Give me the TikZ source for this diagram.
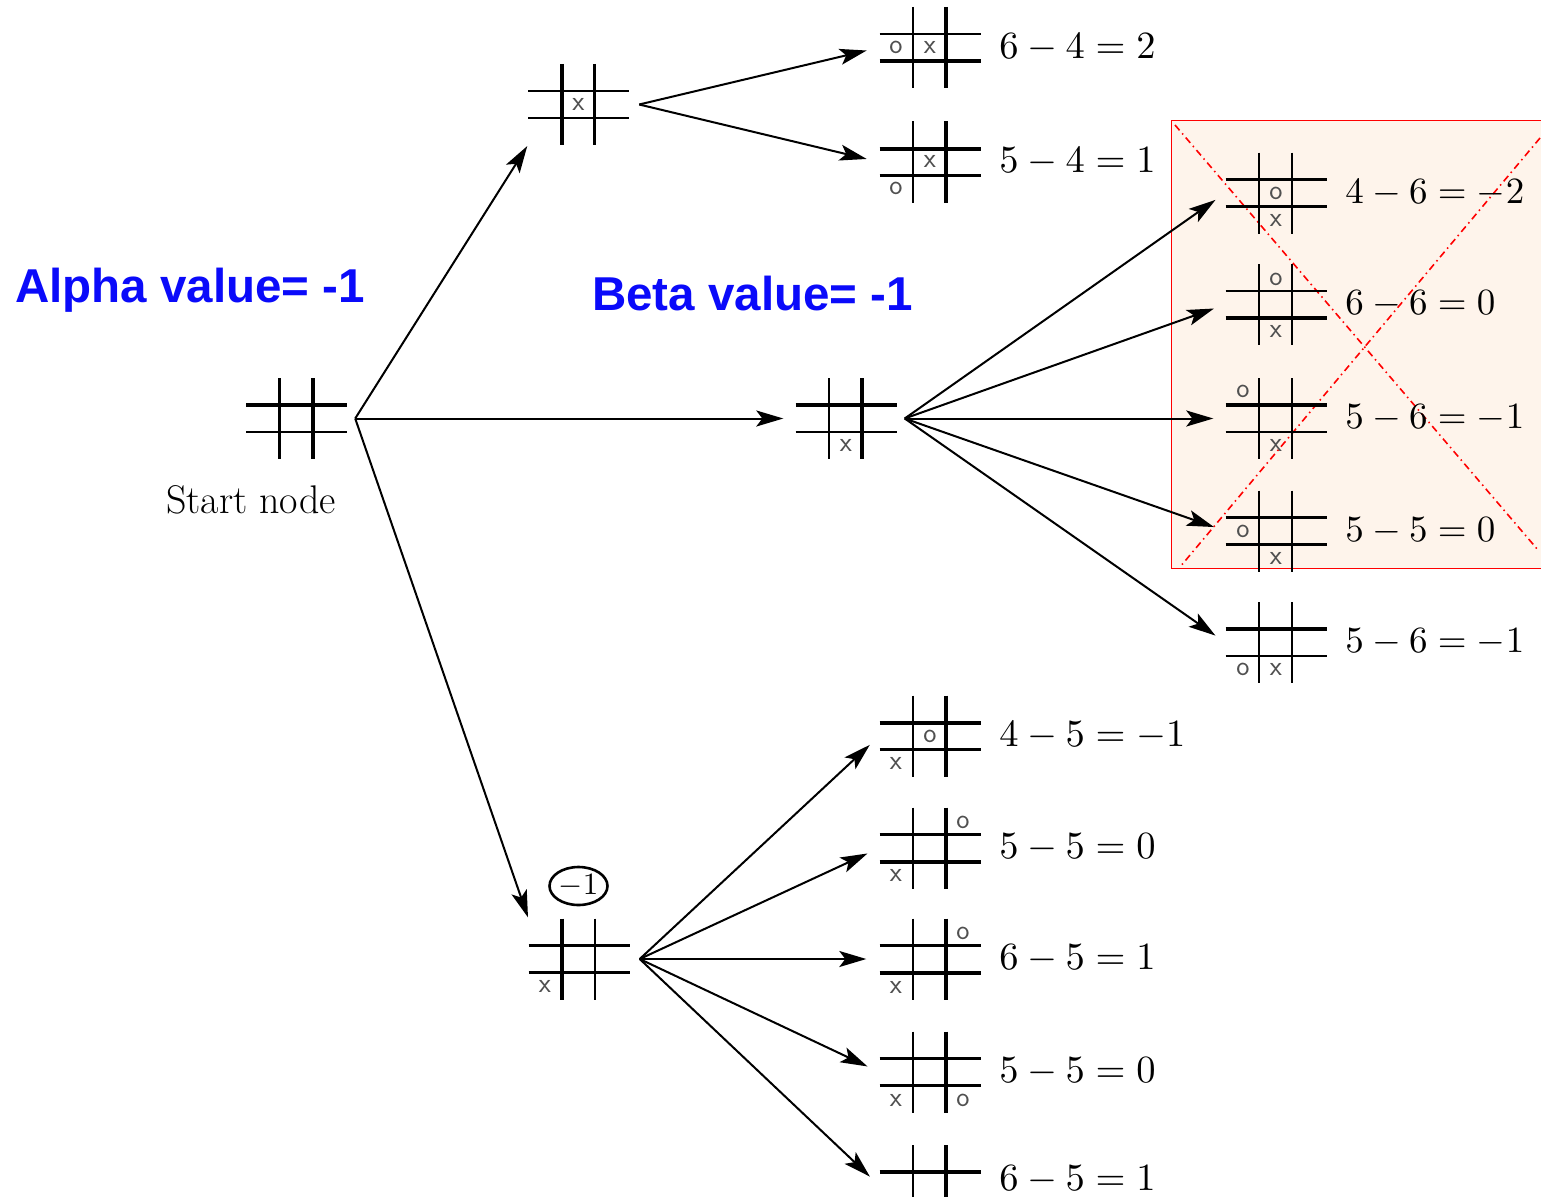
\documentclass[tikz,border=0pt]{standalone}
\usepackage{fontspec}
\usepackage{graphicx}
\newfontfamily\lblfont{Liberation Sans}
\usetikzlibrary{arrows.meta,shapes.geometric,calc}
\definecolor{boxfill}{RGB}{254,244,235}
\definecolor{lblblue}{RGB}{10,10,250}
\definecolor{markgray}{RGB}{80,80,80}
\tikzset{
  bnode/.style={rectangle,draw=none,inner sep=0pt,minimum width=101pt,minimum height=81pt},
  mk/.style={inner sep=0pt,text=markgray,font=\fontsize{28}{28}\selectfont\sffamily},
  eq/.style={inner sep=0pt,anchor=west},
  arr/.style={line width=2pt,-{Stealth[length=27pt,width=16pt,inset=6pt]}},
  lbl/.style={inner sep=0pt,anchor=base west,text=lblblue,font=\fontsize{47.5}{47.5}\selectfont\lblfont\bfseries},
  redcross/.style={red,line width=1.6pt,dash pattern=on 7pt off 4pt on 1.5pt off 4pt},
}
\newcommand\eqtext[1]{\scalebox{3.85}{$#1$}}
\newcommand\eqtextb[1]{\scalebox{3.7}{$#1$}}
% name, cx, cy, top h width, bottom h width, left v width, right v width
\newcommand\tboard[7]{%
  \node[bnode] (#1) at (#2,#3) {};
  \begin{scope}[shift={(#2,#3)}]
    \draw[line width=#4] (-50.5,-13.5) -- (50.5,-13.5);
    \draw[line width=#5] (-50.5,13.5) -- (50.5,13.5);
    \draw[line width=#6] (-17,-40.5) -- (-17,40.5);
    \draw[line width=#7] (16,-40.5) -- (16,40.5);
  \end{scope}}
% name, board, dx, dy, glyph
\newcommand\tmark[5]{\node[mk] (#1) at ([shift={(#3,#4)}]#2.center) {#5};}
\begin{document}
\begin{tikzpicture}[x=1pt,y=-1pt]
\useasboundingbox (0,0) rectangle (1541,1196);
\clip (0,0) rectangle (1541,1196);
\fill[white] (0,0) rectangle (1541,1196);
% red crossed-out box
\node[rectangle,fill=boxfill,draw=red,line width=1.4pt,anchor=north west,
      minimum width=380pt,minimum height=448pt,inner sep=0pt] (rbox) at (1171,120) {};
\draw[redcross] (1175,125) -- (1538,550);
\draw[redcross] (1540,138) -- (1180,567);
% boards
\tboard{S}{296.5}{418.5}{3.2pt}{2.2pt}{2.2pt}{4pt}
\tboard{A}{578.5}{104.5}{2.8pt}{2.8pt}{4pt}{2.2pt}
\tboard{B}{846}{418.5}{3.6pt}{2.2pt}{2.2pt}{4pt}
\tboard{C}{579}{959}{2.2pt}{3.8pt}{4pt}{2.2pt}
\tboard{A1}{930}{47.5}{2.2pt}{4pt}{2.2pt}{4pt}
\tboard{A2}{930}{162}{4pt}{2.2pt}{2.2pt}{4pt}
\tboard{B1}{1276}{193}{2.2pt}{2.2pt}{2.4pt}{2.4pt}
\tboard{B2}{1276}{304.5}{2.2pt}{3.6pt}{2.4pt}{2.4pt}
\tboard{B3}{1276}{418.5}{3.6pt}{2.2pt}{2.4pt}{2.4pt}
\tboard{B4}{1276}{531}{3.6pt}{2.2pt}{2.4pt}{2.4pt}
\tboard{B5}{1276}{642.5}{3.6pt}{2.2pt}{2.4pt}{2.4pt}
\tboard{C1}{930}{736}{4pt}{2.2pt}{2.2pt}{4pt}
\tboard{C2}{930}{848}{2.2pt}{4pt}{2.2pt}{4pt}
\tboard{C3}{930}{959}{2.2pt}{4pt}{2.2pt}{4pt}
\tboard{C4}{930}{1072}{2.2pt}{2.2pt}{2.2pt}{4pt}
\tboard{C5}{930}{1185.5}{4pt}{2.2pt}{2.2pt}{4pt}
% marks
\tmark{A-x}{A}{0}{0}{x}
\tmark{B-x}{B}{0}{27}{x}
\tmark{C-x}{C}{-34}{27}{x}
\tmark{A1-o}{A1}{-34}{0}{o}
\tmark{A1-x}{A1}{0}{0}{x}
\tmark{A2-x}{A2}{0}{-1}{x}
\tmark{A2-o}{A2}{-34}{26}{o}
\tmark{B1-o}{B1}{0}{0}{o}
\tmark{B1-x}{B1}{0}{27.5}{x}
\tmark{B2-o}{B2}{0}{-25}{o}
\tmark{B2-x}{B2}{0}{27}{x}
\tmark{B3-o}{B3}{-33}{-27}{o}
\tmark{B3-x}{B3}{0}{27}{x}
\tmark{B4-o}{B4}{-33}{0}{o}
\tmark{B4-x}{B4}{0}{27}{x}
\tmark{B5-o}{B5}{-33}{27}{o}
\tmark{B5-x}{B5}{0}{27}{x}
\tmark{C1-o}{C1}{0}{0}{o}
\tmark{C1-x}{C1}{-34}{27}{x}
\tmark{C2-o}{C2}{33}{-26}{o}
\tmark{C2-x}{C2}{-34}{27}{x}
\tmark{C3-o}{C3}{33}{-26}{o}
\tmark{C3-x}{C3}{-34}{28}{x}
\tmark{C4-x}{C4}{-34}{28}{x}
\tmark{C4-o}{C4}{33}{28}{o}
% equations
\node[eq] (A1-t) at ([xshift=18.5pt]A1.east) {\eqtext{6-4=2}};
\node[eq] (A2-t) at ([xshift=18.5pt]A2.east) {\eqtext{5-4=1}};
\node[eq] (B1-t) at ([xshift=18.5pt]B1.east) {\eqtextb{4-6=-2}};
\node[eq] (B2-t) at ([xshift=18.5pt]B2.east) {\eqtextb{6-6=0}};
\node[eq] (B3-t) at ([xshift=18.5pt]B3.east) {\eqtextb{5-6=-1}};
\node[eq] (B4-t) at ([xshift=18.5pt]B4.east) {\eqtextb{5-5=0}};
\node[eq] (B5-t) at ([xshift=18.5pt]B5.east) {\eqtextb{5-6=-1}};
\node[eq] (C1-t) at ([xshift=18.5pt]C1.east) {\eqtext{4-5=-1}};
\node[eq] (C2-t) at ([xshift=18.5pt]C2.east) {\eqtext{5-5=0}};
\node[eq] (C3-t) at ([xshift=18.5pt]C3.east) {\eqtext{6-5=1}};
\node[eq] (C4-t) at ([xshift=18.5pt]C4.east) {\eqtext{5-5=0}};
\node[eq] (C5-t) at ([xshift=18.5pt,yshift=6pt]C5.east) {\eqtext{6-5=1}};
% other labels
\node[inner sep=0pt,font=\fontsize{40}{40}\selectfont] (start) at (251,500) {Start node};
\node[draw,ellipse,line width=2.6pt,minimum width=58pt,minimum height=38pt,inner sep=0pt] (val) at (578.5,886) {\scalebox{3.1}{$-1$}};
\node[lbl] (alpha) at (15,302) {Alpha value= -1};
\node[lbl] (beta) at (592,310) {Beta value= -1};
% arrows
\draw[arr,shorten >=1pt] ([xshift=8pt]S.east) -- (A.south west);
\draw[arr,shorten >=12pt] ([xshift=8pt]S.east) -- (B.west);
\draw[arr,shorten >=1pt] ([xshift=8pt]S.east) -- (C.north west);
\foreach \t in {A1,A2}{\draw[arr,shorten >=13pt] ([xshift=10pt]A.east) -- (\t.west);}
\foreach \t in {B1,B2,B3,B4,B5}{\draw[arr,shorten >=12pt] ([xshift=8pt]B.east) -- (\t.west);}
\foreach \t in {C1,C2,C3,C4,C5}{\draw[arr,shorten >=13pt] ([xshift=10pt]C.east) -- (\t.west);}
\end{tikzpicture}
\end{document}
